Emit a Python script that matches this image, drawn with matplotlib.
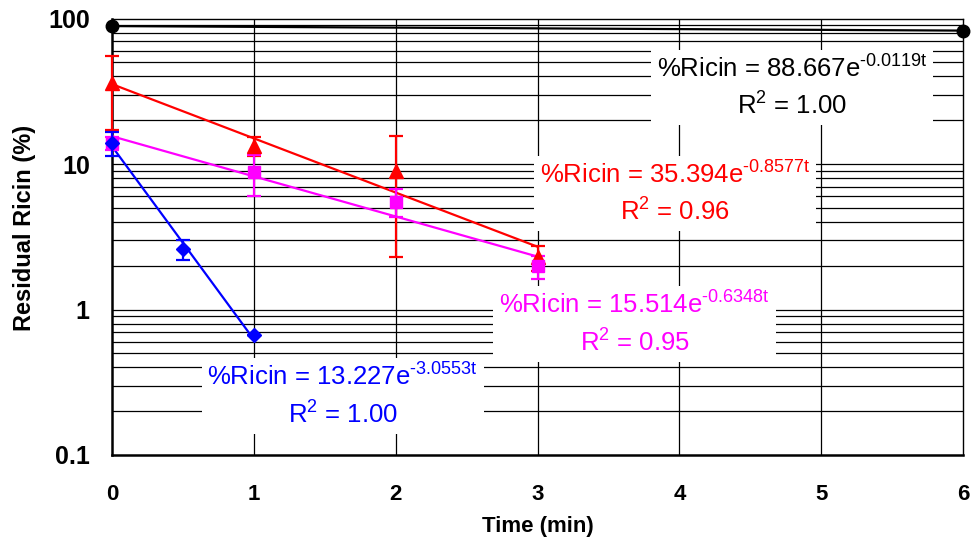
import numpy as np
import matplotlib
matplotlib.use("Agg")
from matplotlib import pyplot as plt

plt.rcParams["font.family"] = ["Liberation Sans", "DejaVu Sans"]
plt.rcParams["mathtext.fontset"] = "custom"
plt.rcParams["mathtext.rm"] = "Liberation Sans"
plt.rcParams["mathtext.it"] = "Liberation Sans"

# measured points (time in min, residual ricin in %)
t_black = [0, 6]
y_black = [89.5, 82.6]

t_red = [0, 1, 2, 3]
y_red = [36.0, 13.3, 8.9, 2.3]
e_red = [19.0, 2.0, 6.6, 0.45]

t_mag = [0, 1, 2, 3]
y_mag = [13.9, 8.8, 5.5, 1.98]
e_mag = [1.5, 2.8, 1.2, 0.35]

t_blue = [0, 0.5, 1]
y_blue = [14.0, 2.6, 0.67]
e_blue = [2.7, 0.42, 0.0]

# exponential fits as printed on the chart: (a, k, t_end, r2)
fit_black = (88.667, 0.0119, 6, "1.00")
fit_red = (35.394, 0.8577, 3, "0.96")
fit_mag = (15.514, 0.6348, 3, "0.95")
fit_blue = (13.227, 3.0553, 1, "1.00")

x_ticks = [0, 1, 2, 3, 4, 5, 6]
y_ticks = [0.1, 1, 10, 100]
y_ticklabels = ["0.1", "1", "10", "100"]


def fit_line(ax, fit, color):
    a, k, t_end, r2 = fit
    tt = np.linspace(0, t_end, 200)
    ax.plot(tt, a * np.exp(-k * tt), color=color, lw=1.6, zorder=3)


def fit_label(ax, fit, color, x, y):
    a, k, t_end, r2 = fit
    txt = ("%Ricin = " + f"{a:.3f}e" + "$^{\\mathrm{\u2010" + f"{k:.4f}" + "t}}$"
           + "\n" + "R$^{\\mathrm{2}}$ = " + r2)
    ax.text(x, y, txt, transform=ax.transAxes, color=color, fontsize=18.5,
            ha="center", va="center", linespacing=1.45, zorder=5,
            bbox=dict(facecolor="white", edgecolor="none", pad=4))


fig = plt.figure(figsize=(9.74, 5.46), dpi=100)
ax = fig.add_axes([112 / 974, 1 - 455 / 546, (963 - 112) / 974, (455 - 18.5) / 546])

ax.set_yscale("log")
ax.set_xlim(0, 6)
ax.set_ylim(0.1, 100)

# grid: every integer time and every minor decade step
for x in x_ticks[1:-1]:
    ax.axvline(x, color="black", lw=0.9, zorder=1)
for dec in [0.1, 1, 10]:
    for m in range(1, 10):
        if dec * m > 0.1:
            ax.axhline(dec * m, color="black", lw=0.9, zorder=1)

fit_line(ax, fit_black, "black")
fit_line(ax, fit_red, "red")
fit_line(ax, fit_mag, "magenta")
fit_line(ax, fit_blue, "blue")

ax.plot(t_black, y_black, "o", color="black", ms=9, clip_on=False, zorder=4)
ax.errorbar(t_red, y_red, yerr=e_red, fmt="^", color="red", ms=10, capsize=5,
            elinewidth=1.6, capthick=1.6, clip_on=False, zorder=4)
ax.errorbar(t_mag, y_mag, yerr=e_mag, fmt="s", color="magenta", ms=8, capsize=5,
            elinewidth=1.6, capthick=1.6, clip_on=False, zorder=4)
ax.errorbar(t_blue, y_blue, yerr=e_blue, fmt="D", color="blue", ms=7, capsize=5,
            elinewidth=1.6, capthick=1.6, clip_on=False, zorder=4)

fit_label(ax, fit_black, "black", 0.799, 0.842)
fit_label(ax, fit_red, "red", 0.662, 0.599)
fit_label(ax, fit_mag, "magenta", 0.614, 0.300)
fit_label(ax, fit_blue, "blue", 0.271, 0.135)

ax.set_xticks(x_ticks)
ax.set_xticklabels([str(x) for x in x_ticks], fontsize=16, fontweight="bold")
ax.set_yticks(y_ticks)
ax.set_yticklabels(y_ticklabels, fontsize=18, fontweight="bold")
ax.minorticks_off()
ax.tick_params(axis="both", length=0)
ax.tick_params(axis="x", pad=21)
ax.tick_params(axis="y", pad=16)

for side in ["left", "bottom"]:
    ax.spines[side].set_linewidth(1.8)
for side in ["top", "right"]:
    ax.spines[side].set_linewidth(1.0)

ax.set_xlabel("Time (min)", fontsize=16, fontweight="bold", labelpad=8)
fig.text(25 / 974, 1 - 228 / 546, "Residual Ricin (%)", rotation=90, fontsize=17,
         fontweight="bold", ha="center", va="center")

fig.savefig("out.png", dpi=100)
